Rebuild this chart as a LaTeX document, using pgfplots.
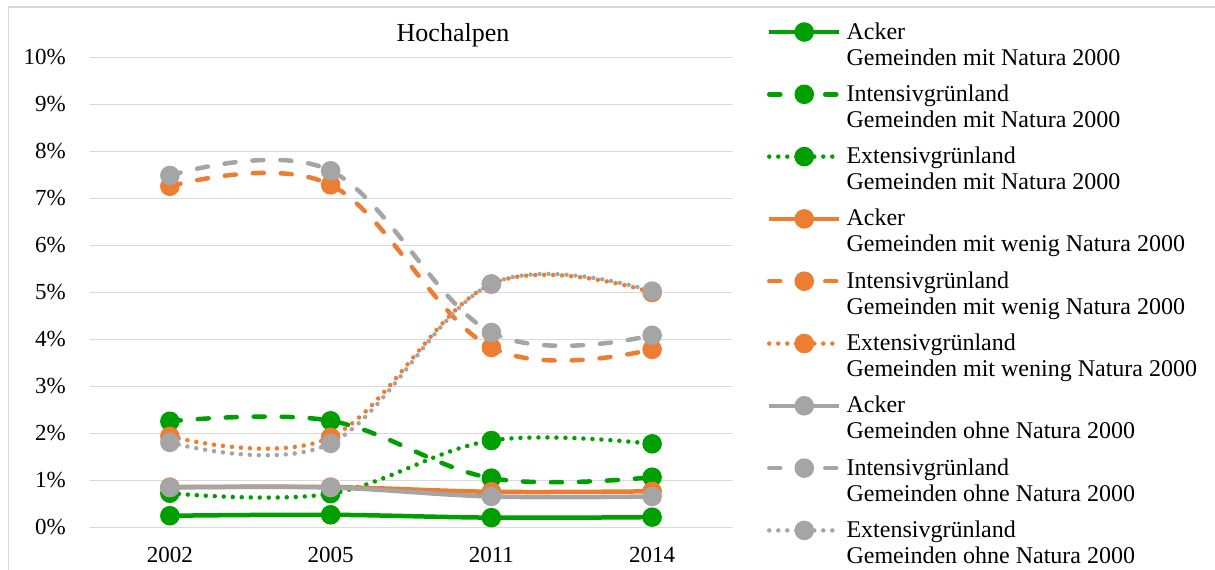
\documentclass[border=0pt]{standalone}
\usepackage{pgfplots}
\pgfplotsset{compat=1.18}
\usepackage{fontspec}
\setmainfont{Liberation Serif}
\definecolor{cgreen}{HTML}{009F00}
\definecolor{corange}{HTML}{ED7D31}
\definecolor{cgray}{HTML}{A5A5A5}
\definecolor{cgrid}{HTML}{D9D9D9}
\newcommand\LE[2]{\vbox{\hbox{\strut #1}\hbox{\strut #2}}}
\begin{document}
\begin{tikzpicture}[x=1pt,y=1pt]
\useasboundingbox (0,0) rectangle (1215,570);
\draw[cgrid, line width=1.5pt] (8.5,-10) -- (8.5,563) -- (1230,563);
\node[anchor=base, font=\fontsize{26}{28}\selectfont] at (453,528) {Hochalpen};
\begin{axis}[
  at={(89.5pt,42.5pt)}, anchor=south west,
  scale only axis, width=643pt, height=470pt,
  xmin=-0.5, xmax=3.5, ymin=0, ymax=10,
  xtick={0,1,2,3}, xticklabels={2002,2005,2011,2014},
  ytick={0,1,2,3,4,5,6,7,8,9,10},
  yticklabels={0\%,1\%,2\%,3\%,4\%,5\%,6\%,7\%,8\%,9\%,10\%},
  axis line style={draw=none},
  major tick length=0pt,
  ymajorgrids, grid style={cgrid, line width=1.5pt},
  font=\fontsize{23}{26}\selectfont,
  yticklabel style={anchor=east, inner sep=0pt, xshift=-23.5pt},
  xticklabel style={anchor=north, inner sep=0pt, yshift=-20pt},
  clip=false,
  every axis plot/.append style={smooth, tension=0.62, line width=4.5pt, mark=*, mark size=7.5pt},
  legend style={at={(1.0537,1.0823)}, anchor=north west, draw=none, fill=none,
    inner sep=0pt, outer sep=0pt, row sep=12.6pt,
    font=\fontsize{24}{26}\selectfont,
    cells={anchor=base west, inner sep=0pt},
    /tikz/every odd column/.append style={column sep=3pt}},
  legend image code/.code={\draw[mark repeat=2,mark phase=2,#1] plot coordinates {(0pt,33pt)(35pt,33pt)(70pt,33pt)};},
]
\pgfplotsset{
  sol/.style={},
  das/.style={dash pattern=on 11pt off 17pt, line cap=round},
  dot/.style={dash pattern=on 0pt off 9pt, line cap=round},
}
% Gemeinden mit Natura 2000 (green)
\addplot[cgreen, sol, mark options={solid, fill=cgreen}] coordinates {(0,0.25) (1,0.27) (2,0.21) (3,0.22)};
\addlegendentry{\LE{Acker}{Gemeinden mit Natura 2000}}
\addplot[cgreen, das, mark options={solid, fill=cgreen}] coordinates {(0,2.26) (1,2.27) (2,1.05) (3,1.07)};
\addlegendentry{\LE{Intensivgrünland}{Gemeinden mit Natura 2000}}
\addplot[cgreen, dot, mark options={solid, fill=cgreen}] coordinates {(0,0.73) (1,0.72) (2,1.85) (3,1.78)};
\addlegendentry{\LE{Extensivgrünland}{Gemeinden mit Natura 2000}}
% Gemeinden mit wenig Natura 2000 (orange)
\addplot[corange, sol, mark options={solid, fill=corange}] coordinates {(0,0.86) (1,0.86) (2,0.76) (3,0.77)};
\addlegendentry{\LE{Acker}{Gemeinden mit wenig Natura 2000}}
\addplot[corange, das, mark options={solid, fill=corange}] coordinates {(0,7.26) (1,7.29) (2,3.83) (3,3.79)};
\addlegendentry{\LE{Intensivgrünland}{Gemeinden mit wenig Natura 2000}}
\addplot[corange, dot, mark options={solid, fill=corange}] coordinates {(0,1.94) (1,1.92) (2,5.18) (3,5.00)};
\addlegendentry{\LE{Extensivgrünland}{Gemeinden mit wening Natura 2000}}
% Gemeinden ohne Natura 2000 (gray)
\addplot[cgray, sol, mark options={solid, fill=cgray}] coordinates {(0,0.85) (1,0.85) (2,0.66) (3,0.66)};
\addlegendentry{\LE{Acker}{Gemeinden ohne Natura 2000}}
\addplot[cgray, das, mark options={solid, fill=cgray}] coordinates {(0,7.49) (1,7.59) (2,4.15) (3,4.09)};
\addlegendentry{\LE{Intensivgrünland}{Gemeinden ohne Natura 2000}}
\addplot[cgray, dot, mark options={solid, fill=cgray}] coordinates {(0,1.81) (1,1.79) (2,5.18) (3,5.03)};
\addlegendentry{\LE{Extensivgrünland}{Gemeinden ohne Natura 2000}}
\end{axis}
\end{tikzpicture}
\end{document}
